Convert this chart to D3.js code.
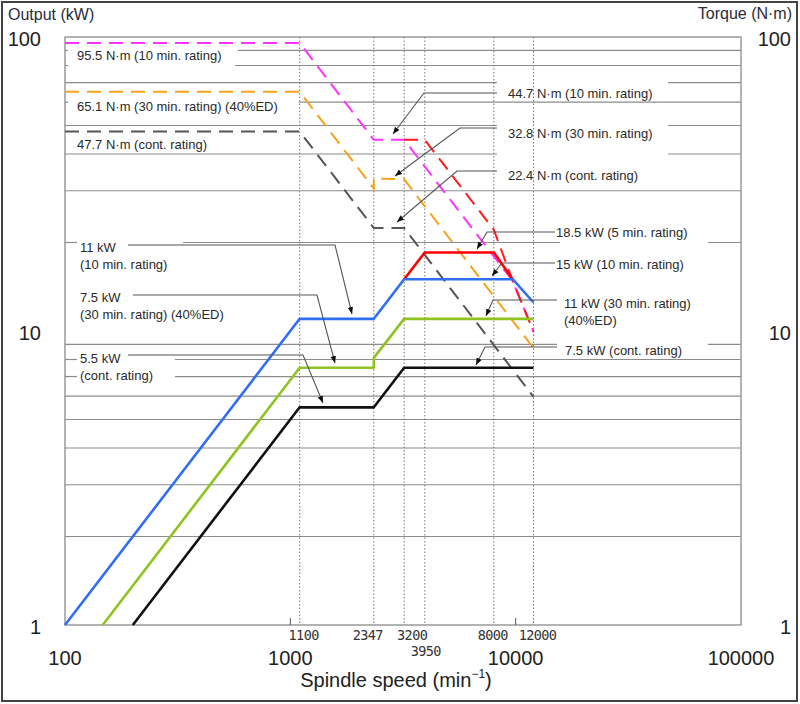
<!DOCTYPE html>
<html>
<head>
<meta charset="utf-8">
<script src="https://cdn.jsdelivr.net/npm/d3@7"></script>
<style>
  html, body { margin: 0; padding: 0; background: #fff; }
  svg { display: block; }
  text { font-family: "Liberation Sans", Arial, sans-serif; fill: #222; }
</style>
</head>
<body>
<svg id="chart" width="800" height="704"></svg>
<script>
// ---------------- data ----------------
const speedTicks = [1100, 2347, 3200, 3950, 8000, 12000];
const speedTickLabels = ["1100", "2347", "3200", "3950", "8000", "12000"];
const decadeTicks = [100, 1000, 10000, 100000];
const decadeLabels = ["100", "1000", "10000", "100000"];
const valueTicks = [1, 10, 100];
const valueTickLabels = ["1", "10", "100"];
const minorGrid = [2, 3, 4, 5, 6, 7, 8, 9, 20, 30, 40, 50, 60, 70, 80, 90];

// Output (kW)
const speed10min = [100, 1100, 2347, 3200, 9700, 12000];
const output10min = [1, 11, 11, 15, 15, 12.5];
const speed5min = [3200, 3950, 8000, 9700];
const output5min = [15, 18.5, 18.5, 15];
const speed30min = [147, 1100, 2347, 2347, 3200, 12000];
const output30min = [1, 7.5, 7.5, 8.1, 11, 11];
const speedCont = [200, 1100, 2347, 3200, 12000];
const outputCont = [1, 5.5, 5.5, 7.5, 7.5];

// Torque (N·m)
const tSpeed10min = [100, 1100, 2347, 3200, 9700, 12000];
const torque10min = [95.5, 95.5, 44.7, 44.7, 14.8, 9.95];
const tSpeed5min = [3200, 3950, 8000, 9700, 12000];
const torque5min = [44.7, 44.7, 22.1, 14.8, 9.95];
const tSpeed30min = [100, 1100, 2347, 2347, 3200, 12000];
const torque30min = [65.1, 65.1, 30.5, 33.0, 32.8, 8.75];
const tSpeedCont = [100, 1100, 2347, 3200, 12000];
const torqueCont = [47.7, 47.7, 22.4, 22.4, 5.97];

// ---------------- layout ----------------
const W = 800, H = 704;
const L = 65, R = 741, T = 37, B = 625;
const svg = d3.select("#chart");
const x = d3.scaleLog().domain([100, 100000]).range([L, R]);
const y = d3.scaleLog().domain([1, 100]).range([B, T]);

// outer frame
svg.append("rect").attr("x", 2).attr("y", 2).attr("width", W - 5).attr("height", H - 5)
  .attr("fill", "#fff").attr("stroke", "#444").attr("stroke-width", 2);

// gridline gaps (white areas behind labels), in pixels
const gridGaps = {
  90: [[68, 238]], 80: [[68, 235]], 70: [[497, 668]], 60: [[68, 299]],
  50: [[497, 668]], 40: [[497, 668]], 20: [[77, 183], [560, 708]],
  10: [[557, 708]], 9: [[557, 708]], 8: [[77, 175]], 7: [[77, 175]]
};
const grid = svg.append("g");
minorGrid.forEach(v => {
  const gaps = gridGaps[v] || [];
  let segs = [], start = L;
  gaps.forEach(g => { segs.push([start, g[0]]); start = g[1]; });
  segs.push([start, R]);
  segs.forEach(s => {
    grid.append("line").attr("x1", s[0]).attr("x2", s[1])
      .attr("y1", y(v)).attr("y2", y(v))
      .attr("stroke", "#8c8c8c").attr("stroke-width", 1.2);
  });
});
// 10 line (major) left part (gap handled above)
// plot frame
svg.append("rect").attr("x", L).attr("y", T).attr("width", R - L).attr("height", B - T)
  .attr("fill", "none").attr("stroke", "#8a8a8a").attr("stroke-width", 1.3);

// vertical dotted lines
svg.append("g").selectAll("line").data(speedTicks).join("line")
  .attr("x1", d => x(d)).attr("x2", d => x(d)).attr("y1", T).attr("y2", B)
  .attr("stroke", "#777").attr("stroke-width", 1).attr("stroke-dasharray", "1.5,2");

// bottom axis ticks at decades
svg.append("g").selectAll("line").data([1000, 10000]).join("line")
  .attr("x1", d => x(d)).attr("x2", d => x(d)).attr("y1", B).attr("y2", B - 7)
  .attr("stroke", "#555").attr("stroke-width", 1);

// axis texts
svg.append("text").attr("x", 8).attr("y", 20).attr("font-size", 16).style("fill", "#2b2b3a").text("Output (kW)");
svg.append("text").attr("x", 792).attr("y", 19).attr("font-size", 16).attr("text-anchor", "end").style("fill", "#2b2b3a").text("Torque (N·m)");
valueTicks.forEach((v, i) => {
  svg.append("text").attr("x", 41).attr("y", y(v) + 9).attr("font-size", 20)
    .attr("text-anchor", "end").text(valueTickLabels[i]);
  svg.append("text").attr("x", 791).attr("y", y(v) + 9).attr("font-size", 20)
    .attr("text-anchor", "end").text(valueTickLabels[i]);
});
decadeTicks.forEach((v, i) => {
  svg.append("text").attr("x", x(v)).attr("y", 665).attr("font-size", 20)
    .attr("text-anchor", "middle").text(decadeLabels[i]);
});
const tickDx = [4, -6, 8, 1, -1, 4];
speedTicks.forEach((v, i) => {
  svg.append("text").attr("x", x(v) + tickDx[i]).attr("y", v === 3950 ? 656 : 640)
    .attr("font-size", 13.5).attr("text-anchor", "middle")
    .style("font-family", "'DejaVu Sans Mono', monospace").style("fill", "#333")
    .attr("letter-spacing", -0.6)
    .text(speedTickLabels[i]);
});
const xt = svg.append("text").attr("x", 396).attr("y", 687).attr("font-size", 20)
  .attr("text-anchor", "middle");
xt.append("tspan").text("Spindle speed (min");
xt.append("tspan").attr("font-size", 12).attr("dy", -9).text("−1");
xt.append("tspan").attr("dy", 9).text(")");

// ---------------- series ----------------
const line = d3.line().x(d => x(d[0])).y(d => y(d[1]));
const zip = (a, b) => a.map((v, i) => [v, b[i]]);

const dashed = [
  [tSpeedCont, torqueCont, "#555555"],
  [tSpeed30min, torque30min, "#f7a21b"],
  [tSpeed10min, torque10min, "#ff33ff"],
  [tSpeed5min, torque5min, "#ff1a1a"]
];
dashed.forEach(s => {
  svg.append("path").attr("d", line(zip(s[0], s[1])))
    .attr("fill", "none").attr("stroke", s[2]).attr("stroke-width", 2)
    .attr("stroke-dasharray", "14,8");
});
const solid = [
  [speedCont, outputCont, "#111111"],
  [speed30min, output30min, "#8fc31f"],
  [speed5min, output5min, "#ff0000"],
  [speed10min, output10min, "#2f6ef5"]
];
solid.forEach(s => {
  svg.append("path").attr("d", line(zip(s[0], s[1])))
    .attr("fill", "none").attr("stroke", s[2]).attr("stroke-width", 2.6)
    .attr("stroke-linejoin", "round");
});

// ---------------- annotations ----------------
svg.append("defs").append("marker").attr("id", "arr")
  .attr("viewBox", "0 0 10 10").attr("refX", 10).attr("refY", 5)
  .attr("markerWidth", 7).attr("markerHeight", 7).attr("orient", "auto")
  .attr("markerUnits", "userSpaceOnUse")
  .append("path").attr("d", "M0,1 L10,5 L0,9 z").attr("fill", "#111");

const labels = [
  { lines: ["95.5 N·m (10 min. rating)"], x: 77, y: 55 },
  { lines: ["65.1 N·m (30 min. rating) (40%ED)"], x: 77, y: 106 },
  { lines: ["47.7 N·m (cont. rating)"], x: 77, y: 144 },
  { lines: ["11 kW", "(10 min. rating)"], x: 80, y: 247, lead: [[128, 245], [335, 245], [352, 314]] },
  { lines: ["7.5 kW", "(30 min. rating) (40%ED)"], x: 80, y: 297, lead: [[133, 295], [317, 295], [335, 363]] },
  { lines: ["5.5 kW", "(cont. rating)"], x: 80, y: 358, lead: [[128, 355], [303, 355], [323, 403]] },
  { lines: ["44.7 N·m (10 min. rating)"], x: 508, y: 93, lead: [[497, 93], [424, 93], [393, 134]] },
  { lines: ["32.8 N·m (30 min. rating)"], x: 508, y: 133, lead: [[497, 128], [460, 128], [395, 176]] },
  { lines: ["22.4 N·m (cont. rating)"], x: 508, y: 175, lead: [[497, 171], [457, 171], [397, 222]] },
  { lines: ["18.5 kW (5 min. rating)"], x: 556, y: 232, lead: [[555, 232], [487, 232], [477, 249]] },
  { lines: ["15 kW (10 min. rating)"], x: 556, y: 264, lead: [[555, 263], [502, 263], [492, 276]] },
  { lines: ["11 kW (30 min. rating)", "(40%ED)"], x: 564, y: 303, lead: [[557, 300], [493, 300], [486, 316]] },
  { lines: ["7.5 kW (cont. rating)"], x: 565, y: 350, lead: [[557, 347], [485, 347], [476, 365]] }
];
const ann = svg.append("g");
labels.forEach(l => {
  const t = ann.append("text").attr("font-size", 13).style("fill", "#2a2a2a");
  l.lines.forEach((s, i) => {
    t.append("tspan").attr("x", l.x).attr("y", l.y + 4.5 + i * 17).text(s);
  });
  if (l.lead) {
    ann.append("path").attr("d", d3.line()(l.lead))
      .attr("fill", "none").attr("stroke", "#555").attr("stroke-width", 1.1)
      .attr("marker-end", "url(#arr)");
  }
});
</script>
</body>
</html>
